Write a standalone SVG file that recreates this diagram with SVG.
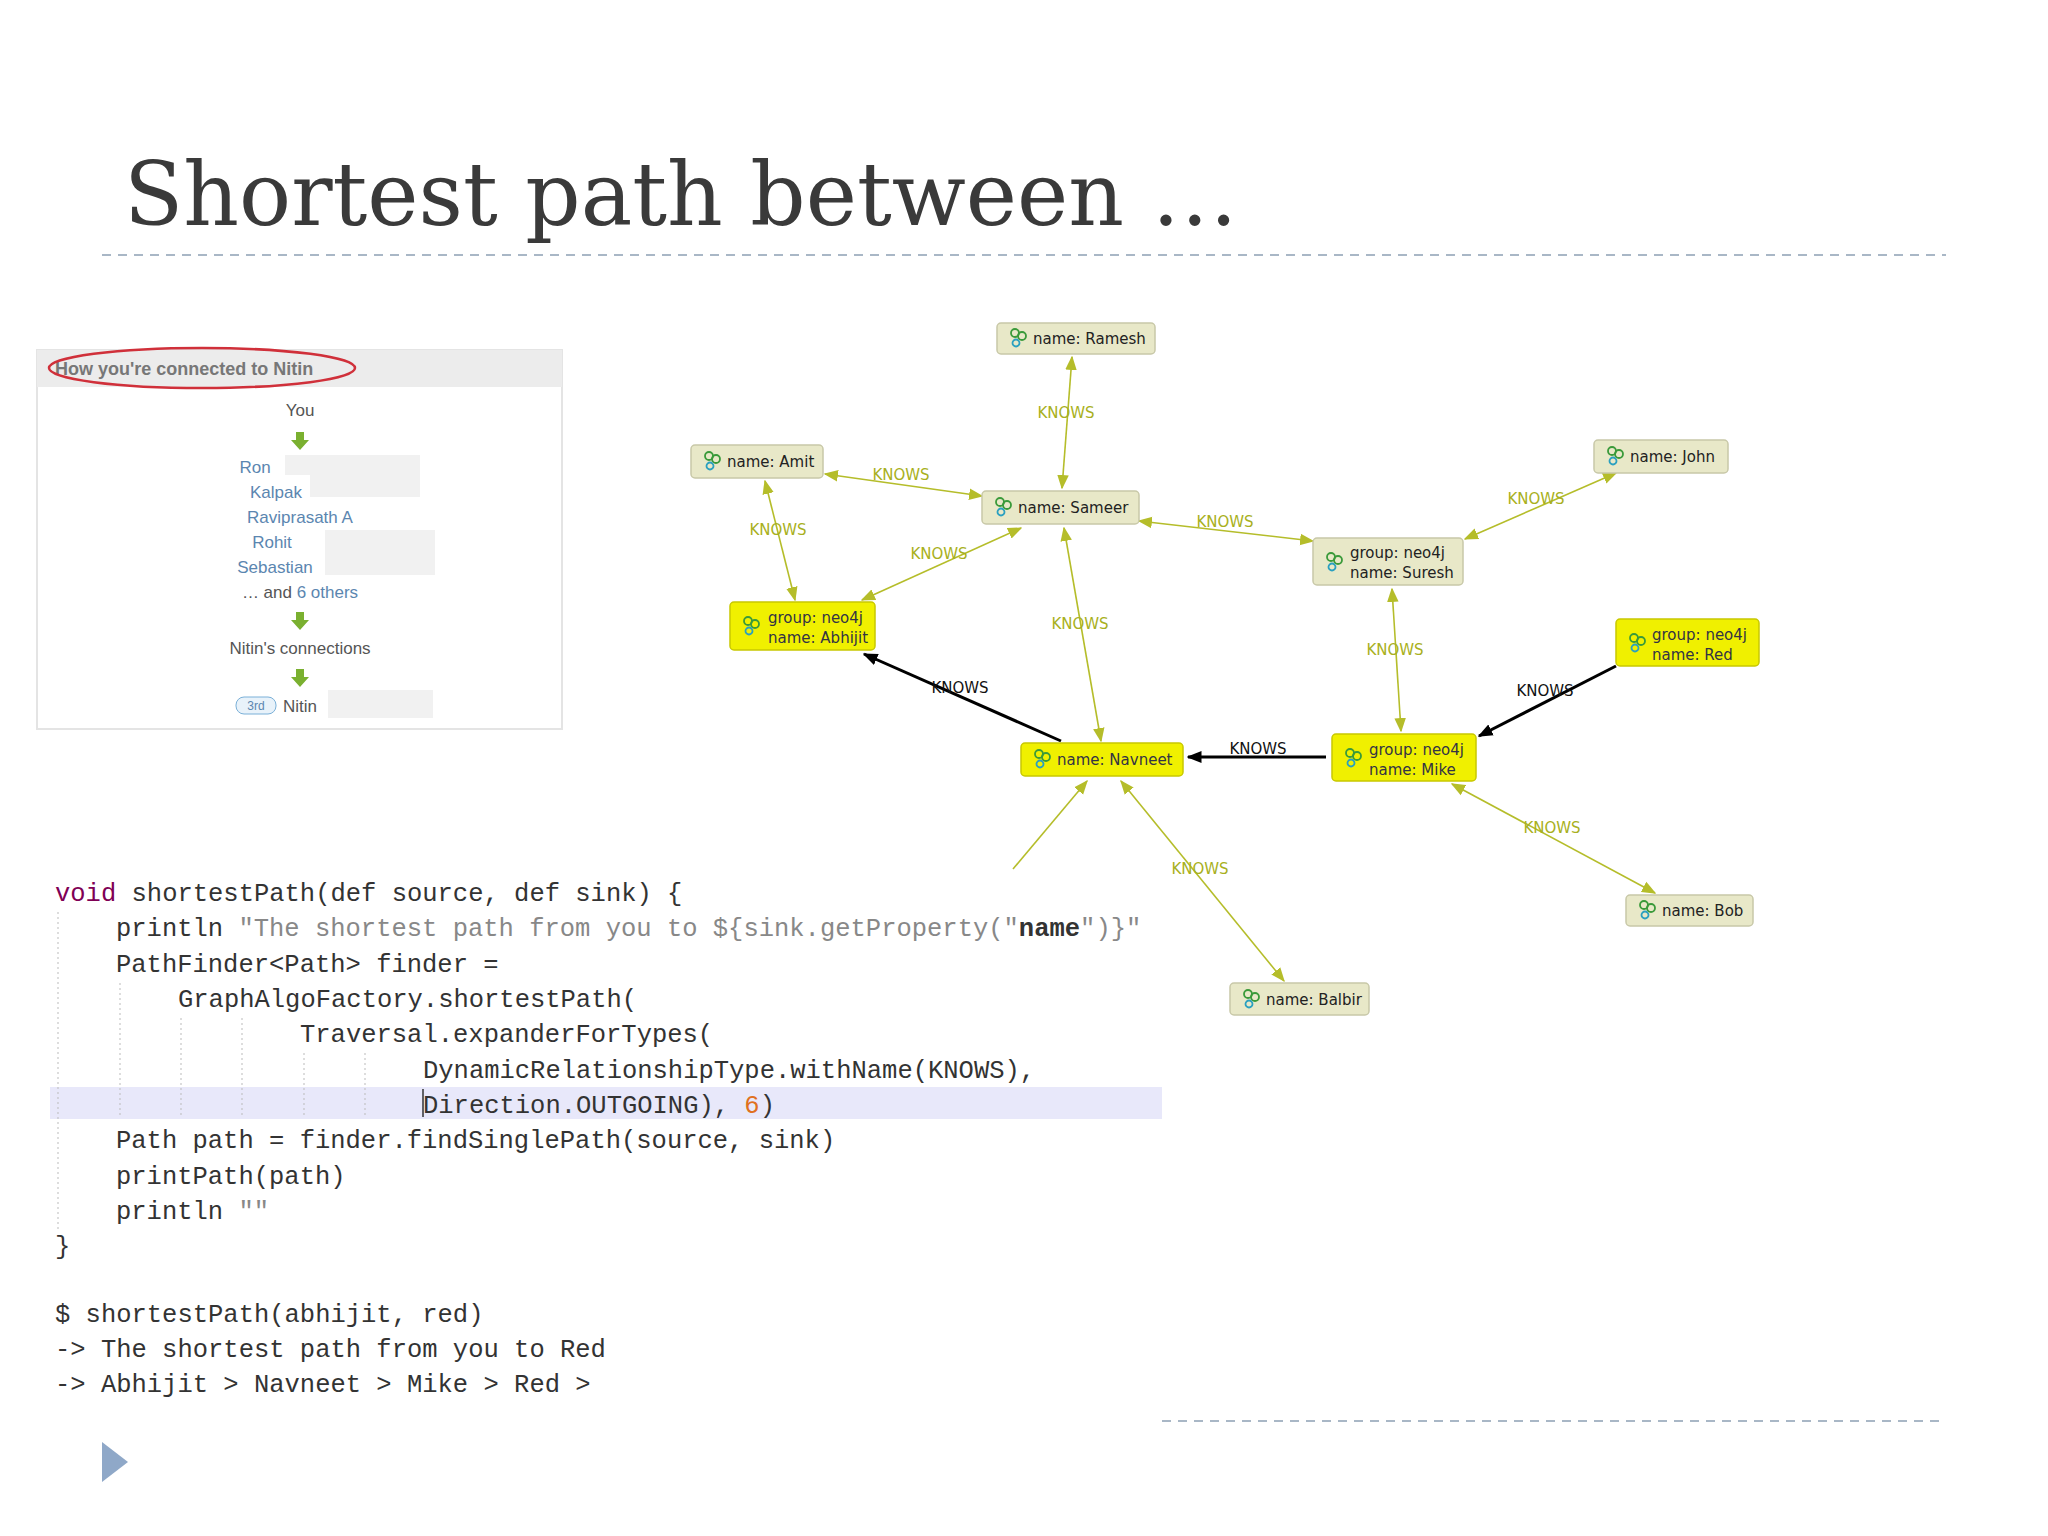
<svg xmlns="http://www.w3.org/2000/svg" width="2048" height="1536" viewBox="0 0 2048 1536">
<defs>
<style>
.title{font-family:"DejaVu Serif","Liberation Serif",serif;font-size:88px;fill:#3a3a3a}
.dash{stroke:#a9b7c6;stroke-width:2;stroke-dasharray:9 7}
.n rect{fill:#e8e8c8;stroke:#c8c8a8;stroke-width:1.5}
.n.y rect{fill:#f0f000;stroke:#c8c800}
.n text{font-family:"DejaVu Sans",sans-serif;font-size:15px;fill:#222}
.n.y text{fill:#334}
.e{stroke:#b5bd2a;stroke-width:1.6;fill:none}
.b{stroke:#000;stroke-width:3;fill:none}
.lb{font-family:"DejaVu Sans",sans-serif;font-size:15px;fill:#a8b020;text-anchor:middle}
.lbk{font-family:"DejaVu Sans",sans-serif;font-size:15px;fill:#111;text-anchor:middle}
.code{font-family:"Liberation Mono",monospace;font-size:25.5px;fill:#333;white-space:pre}
.kw{fill:#7f0055}
.str{fill:#888}
.li{font-family:"Liberation Sans",sans-serif;font-size:17px;text-anchor:middle}
.guide{stroke:#bbb;stroke-width:1;stroke-dasharray:2 3}
</style>
<marker id="ay" viewBox="0 0 10 10" refX="9" refY="5" markerWidth="9" markerHeight="9" orient="auto-start-reverse"><path d="M0,1 L10,5 L0,9 Z" fill="#b5bd2a"/></marker>
<marker id="ab" viewBox="0 0 10 10" refX="9" refY="5" markerWidth="5" markerHeight="5" orient="auto-start-reverse"><path d="M0,1 L10,5 L0,9 Z" fill="#000"/></marker>
<g id="ic"><circle cx="0" cy="-5" r="4" fill="none" stroke="#3a9a3a" stroke-width="1.8"/><circle cx="7" cy="-2" r="4" fill="none" stroke="#3a9a3a" stroke-width="1.8"/><circle cx="1" cy="5" r="3.5" fill="none" stroke="#2aa0c0" stroke-width="1.8"/></g>
</defs>
<rect width="2048" height="1536" fill="#fff"/>
<text class="title" x="124" y="225" textLength="1114" lengthAdjust="spacingAndGlyphs">Shortest path between …</text>
<line class="dash" x1="102" y1="255" x2="1946" y2="255"/>
<line class="dash" x1="1162" y1="1421" x2="1946" y2="1421"/>
<path d="M102,1442 L128,1462 L102,1482 Z" fill="#8fa8c8"/>

<g id="linkedin">
<rect x="37" y="350" width="525" height="379" fill="#fff" stroke="#e4e4e4" stroke-width="2"/>
<rect x="37" y="350" width="525" height="37" fill="#ececec"/>
<text x="55" y="375" font-family="Liberation Sans,sans-serif" font-size="18" font-weight="bold" fill="#777">How you're connected to Nitin</text>
<ellipse cx="202" cy="368" rx="153" ry="20" fill="none" stroke="#d0303a" stroke-width="2.5"/>
<text class="li" x="300" y="416" fill="#555">You</text>
<path d="M296,432 h8 v8 h5 l-9,10 l-9,-10 h5 z" fill="#7ab030"/>
<rect x="285" y="455" width="135" height="20" fill="#eee" opacity="0.8"/>
<rect x="310" y="475" width="110" height="22" fill="#eee" opacity="0.8"/>
<rect x="325" y="530" width="110" height="45" fill="#eee" opacity="0.8"/>
<text class="li" x="255" y="473" fill="#5b86b0">Ron</text>
<text class="li" x="276" y="498" fill="#5b86b0">Kalpak</text>
<text class="li" x="300" y="523" fill="#5b86b0">Raviprasath A</text>
<text class="li" x="272" y="548" fill="#5b86b0">Rohit</text>
<text class="li" x="275" y="573" fill="#5b86b0">Sebastian</text>
<text class="li" x="300" y="598" fill="#555">… and <tspan fill="#5b86b0">6 others</tspan></text>
<path d="M296,612 h8 v8 h5 l-9,10 l-9,-10 h5 z" fill="#7ab030"/>
<text class="li" x="300" y="654" fill="#555">Nitin's connections</text>
<path d="M296,669 h8 v8 h5 l-9,10 l-9,-10 h5 z" fill="#7ab030"/>
<rect x="236" y="697" width="40" height="17" rx="8" fill="#e8f2fa" stroke="#7ab0d8"/>
<text x="256" y="710" font-family="Liberation Sans,sans-serif" font-size="12" fill="#5b86b0" text-anchor="middle">3rd</text>
<text x="283" y="712" font-family="Liberation Sans,sans-serif" font-size="17" fill="#555">Nitin</text>
<rect x="328" y="690" width="105" height="28" fill="#eee" opacity="0.8"/>
</g>

<g id="connectors">
<line class="e" x1="1072" y1="357" x2="1062" y2="488" marker-start="url(#ay)" marker-end="url(#ay)"/>
<line class="e" x1="825" y1="474" x2="982" y2="496" marker-start="url(#ay)" marker-end="url(#ay)"/>
<line class="e" x1="765" y1="481" x2="795" y2="600" marker-start="url(#ay)" marker-end="url(#ay)"/>
<line class="e" x1="862" y1="600" x2="1021" y2="528" marker-start="url(#ay)" marker-end="url(#ay)"/>
<line class="e" x1="1139" y1="521" x2="1313" y2="541" marker-start="url(#ay)" marker-end="url(#ay)"/>
<line class="e" x1="1465" y1="539" x2="1616" y2="473" marker-start="url(#ay)" marker-end="url(#ay)"/>
<line class="e" x1="1064" y1="528" x2="1101" y2="741" marker-start="url(#ay)" marker-end="url(#ay)"/>
<line class="e" x1="1392" y1="589" x2="1401" y2="731" marker-start="url(#ay)" marker-end="url(#ay)"/>
<line class="e" x1="1452" y1="784" x2="1655" y2="893" marker-start="url(#ay)" marker-end="url(#ay)"/>
<line class="e" x1="1121" y1="781" x2="1284" y2="981" marker-start="url(#ay)" marker-end="url(#ay)"/>
<line class="e" x1="1013" y1="869" x2="1087" y2="781" marker-end="url(#ay)"/>
<line class="b" x1="1061" y1="741" x2="864" y2="654" marker-end="url(#ab)"/>
<line class="b" x1="1326" y1="757" x2="1188" y2="757" marker-end="url(#ab)"/>
<line class="b" x1="1616" y1="666" x2="1479" y2="736" marker-end="url(#ab)"/>
<text class="lb" x="1066" y="418">KNOWS</text>
<text class="lb" x="901" y="480">KNOWS</text>
<text class="lb" x="778" y="535">KNOWS</text>
<text class="lb" x="939" y="559">KNOWS</text>
<text class="lb" x="1225" y="527">KNOWS</text>
<text class="lb" x="1536" y="504">KNOWS</text>
<text class="lb" x="1080" y="629">KNOWS</text>
<text class="lb" x="1395" y="655">KNOWS</text>
<text class="lb" x="1552" y="833">KNOWS</text>
<text class="lb" x="1200" y="874">KNOWS</text>
<text class="lbk" x="960" y="693">KNOWS</text>
<text class="lbk" x="1258" y="754">KNOWS</text>
<text class="lbk" x="1545" y="696">KNOWS</text>
</g>

<g id="ramesh" class="n"><rect x="997" y="323" width="158" height="31" rx="4"/><use href="#ic" x="1015" y="338"/><text x="1033" y="344">name: Ramesh</text></g>
<g id="amit" class="n"><rect x="691" y="445" width="132" height="33" rx="4"/><use href="#ic" x="709" y="461"/><text x="727" y="467">name: Amit</text></g>
<g id="sameer" class="n"><rect x="982" y="491" width="157" height="33" rx="4"/><use href="#ic" x="1000" y="507"/><text x="1018" y="513">name: Sameer</text></g>
<g id="john" class="n"><rect x="1594" y="440" width="134" height="33" rx="4"/><use href="#ic" x="1612" y="456"/><text x="1630" y="462">name: John</text></g>
<g id="suresh" class="n"><rect x="1313" y="538" width="150" height="47" rx="4"/><use href="#ic" x="1331" y="562"/><text x="1350" y="558">group: neo4j</text><text x="1350" y="578">name: Suresh</text></g>
<g id="abhijit" class="n y"><rect x="730" y="602" width="145" height="48" rx="4"/><use href="#ic" x="748" y="626"/><text x="768" y="623">group: neo4j</text><text x="768" y="643">name: Abhijit</text></g>
<g id="red" class="n y"><rect x="1616" y="619" width="143" height="47" rx="4"/><use href="#ic" x="1634" y="643"/><text x="1652" y="640">group: neo4j</text><text x="1652" y="660">name: Red</text></g>
<g id="navneet" class="n y"><rect x="1021" y="743" width="162" height="33" rx="4"/><use href="#ic" x="1039" y="759"/><text x="1057" y="765">name: Navneet</text></g>
<g id="mike" class="n y"><rect x="1332" y="734" width="144" height="47" rx="4"/><use href="#ic" x="1350" y="758"/><text x="1369" y="755">group: neo4j</text><text x="1369" y="775">name: Mike</text></g>
<g id="bob" class="n"><rect x="1626" y="895" width="127" height="31" rx="4"/><use href="#ic" x="1644" y="910"/><text x="1662" y="916">name: Bob</text></g>
<g id="balbir" class="n"><rect x="1230" y="983" width="139" height="32" rx="4"/><use href="#ic" x="1248" y="999"/><text x="1266" y="1005">name: Balbir</text></g>

<g id="code">
<rect x="50" y="1087" width="1112" height="32" fill="#e8e8fa"/>
<line class="guide" x1="58" y1="912" x2="58" y2="1232"/>
<line class="guide" x1="120" y1="983" x2="120" y2="1115"/>
<line class="guide" x1="181" y1="1018" x2="181" y2="1115"/>
<line class="guide" x1="242" y1="1018" x2="242" y2="1115"/>
<line class="guide" x1="304" y1="1053" x2="304" y2="1115"/>
<line class="guide" x1="365" y1="1053" x2="365" y2="1115"/>
<line x1="423" y1="1089" x2="423" y2="1117" stroke="#333" stroke-width="1.5"/>
<text class="code" x="55" y="901"><tspan class="kw">void</tspan> shortestPath(def source, def sink) {</text>
<text class="code" x="116" y="936">println <tspan class="str">"The shortest path from you to ${sink.getProperty("</tspan><tspan font-weight="bold">name</tspan><tspan class="str">")}"</tspan></text>
<text class="code" x="116" y="972">PathFinder&lt;Path&gt; finder =</text>
<text class="code" x="178" y="1007">GraphAlgoFactory.shortestPath(</text>
<text class="code" x="300" y="1042">Traversal.expanderForTypes(</text>
<text class="code" x="423" y="1078">DynamicRelationshipType.withName(KNOWS),</text>
<text class="code" x="423" y="1113">Direction.OUTGOING), <tspan fill="#e07020">6</tspan>)</text>
<text class="code" x="116" y="1148">Path path = finder.findSinglePath(source, sink)</text>
<text class="code" x="116" y="1184">printPath(path)</text>
<text class="code" x="116" y="1219">println <tspan class="str">""</tspan></text>
<text class="code" x="55" y="1254">}</text>
<text class="code" x="55" y="1322">$ shortestPath(abhijit, red)</text>
<text class="code" x="55" y="1357">-&gt; The shortest path from you to Red</text>
<text class="code" x="55" y="1392">-&gt; Abhijit &gt; Navneet &gt; Mike &gt; Red &gt;</text>
</g>
</svg>
